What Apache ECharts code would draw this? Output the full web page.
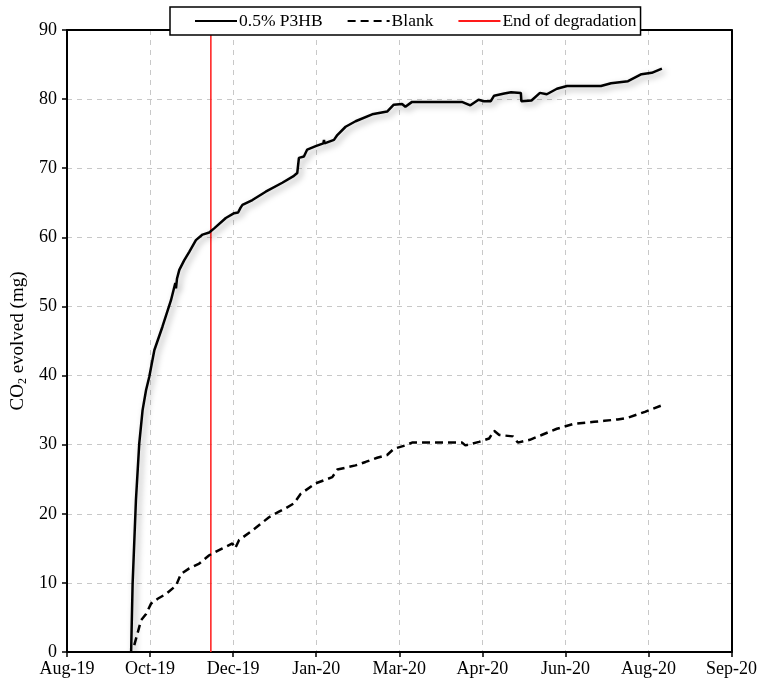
<!DOCTYPE html>
<html>
<head>
<meta charset="utf-8">
<script src="https://cdn.jsdelivr.net/npm/echarts@6/dist/echarts.min.js"></script>
<style>html,body{margin:0;padding:0;background:#fff;}#c{width:760px;height:686px;}</style>
</head>
<body>
<div id="c"></div>
<script>
// x values: days since 2019-08-24 (axis start)
const axisStartUTC = Date.UTC(2019, 7, 24);
const xTickDays = [0, 50, 100, 150, 200, 250, 300, 350, 400];

const p3hbDays = [38.6,39.5,41.5,43.5,45.5,47.6,49.5,52.6,57.5,62.6,65.2,65.6,66.2,67.6,70.6,73.6,77.6,81.6,85.6,88.6,95.6,100.6,103,104.5,105.6,111.6,119.6,129.6,136.6,138.6,139.6,142.6,144.6,149.7,154.3,154.7,155,160.7,162.7,167.7,173.7,183.7,192.7,196.7,201.7,203.7,207.7,237.7,242.8,247.7,251,255.1,257.1,263.2,267.3,273.2,273.5,279.6,284.7,288.8,294.9,301,321.4,327.5,337.7,345.8,352,358.1];
const p3hbCO2 = [0,9.9,22,30.2,35,37.9,39.8,43.7,47.1,50.9,53.4,52.6,54.0,55.3,56.7,57.9,59.6,60.4,60.7,61.3,62.8,63.5,63.6,64.3,64.7,65.4,66.6,67.9,68.9,69.3,71.5,71.7,72.7,73.2,73.6,74.1,73.6,74.1,74.8,76.0,76.8,77.8,78.2,79.2,79.3,78.9,79.6,79.6,79.1,79.9,79.7,79.7,80.5,80.8,81.0,80.9,79.7,79.8,80.9,80.7,81.5,81.9,81.9,82.3,82.6,83.6,83.8,84.4];

const blankDays = [40.5,44.6,47.6,50.6,54.6,59.6,65.6,68.6,73.6,79.6,85.6,93.6,99.6,101.2,103.6,111.6,121.6,127.6,131.6,136.6,140.7,149.7,159.7,162.7,173.7,179.7,186.7,192.7,196.7,203.7,207.7,237.7,239.8,248,254.1,257.1,260.2,268.4,271.4,278.6,285.7,294.9,305,317.3,323.4,331.5,337.7,347.9,358.1];
const blankCO2 = [1.0,4.6,5.5,7.0,7.7,8.4,9.6,11.3,12.1,12.8,14.0,15.0,15.7,15.0,16.2,17.6,19.5,20.3,20.8,21.5,22.9,24.4,25.3,26.4,27.0,27.5,28.1,28.5,29.4,29.9,30.3,30.3,29.9,30.4,30.9,32.0,31.4,31.2,30.3,30.7,31.4,32.3,33.0,33.3,33.45,33.65,33.9,34.75,35.7];

const endOfDegradationDay = 86.6;
const yRange = [0, 90];

const months = ['Jan','Feb','Mar','Apr','May','Jun','Jul','Aug','Sep','Oct','Nov','Dec'];
function dayLabel(v) {
  const d = new Date(axisStartUTC + Math.round(v) * 86400000);
  return months[d.getUTCMonth()] + '-' + String(d.getUTCFullYear() % 100).padStart(2, '0');
}
const zip = (a, b) => a.map((x, i) => [x, b[i]]);

const FONT = 'Liberation Serif';
const frameAxis = {show: true, onZero: false, lineStyle: {color: '#000', width: 2}};
const chart = echarts.init(document.getElementById('c'), null, {renderer: 'canvas'});
chart.setOption({
  animation: false,
  backgroundColor: '#fff',
  textStyle: {fontFamily: FONT, color: '#000'},
  grid: {left: 67, right: 26, top: 30, bottom: 34},
  legend: {
    left: 170, top: 7,
    backgroundColor: '#fff', borderColor: '#000', borderWidth: 1.5, borderRadius: 0,
    padding: [5, 4, 5, 24],
    itemWidth: 42, itemHeight: 4, itemGap: 24,
    itemStyle: {opacity: 0},
    textStyle: {fontFamily: FONT, fontSize: 17.5, color: '#000', padding: [0, 0, 0, -3]},
    data: ['0.5% P3HB', 'Blank', 'End of degradation']
  },
  xAxis: [{
    type: 'value', min: xTickDays[0], max: xTickDays[xTickDays.length - 1], interval: 50,
    axisLine: frameAxis,
    axisTick: {show: true, length: 5, lineStyle: {color: '#000', width: 1.5}},
    axisLabel: {formatter: dayLabel, fontFamily: FONT, fontSize: 18, color: '#000', margin: 8},
    splitLine: {show: true, lineStyle: {color: '#c8c8c8', type: [5, 5], width: 1}}
  }, {
    type: 'value', position: 'top', min: xTickDays[0], max: xTickDays[xTickDays.length - 1], interval: 50,
    axisLine: frameAxis, axisTick: {show: false}, axisLabel: {show: false}, splitLine: {show: false}
  }],
  yAxis: [{
    type: 'value', min: yRange[0], max: yRange[1], interval: 10,
    axisLine: frameAxis,
    axisTick: {show: true, length: 5, lineStyle: {color: '#000', width: 1.5}},
    axisLabel: {fontFamily: FONT, fontSize: 18, color: '#000', margin: 10},
    splitLine: {show: true, lineStyle: {color: '#c8c8c8', type: [5, 5], width: 1}},
    name: '{a|CO}{s|2}{a| evolved (mg)}',
    nameLocation: 'middle', nameGap: 38, nameRotate: 90, nameMoveOverlap: false,
    nameTextStyle: {
      rich: {
        a: {fontFamily: FONT, fontSize: 19, color: '#000'},
        s: {fontFamily: FONT, fontSize: 12, color: '#000', verticalAlign: 'bottom', padding: [9, 0, 0, 0]}
      }
    }
  }, {
    type: 'value', position: 'right', min: yRange[0], max: yRange[1], interval: 10,
    axisLine: frameAxis, axisTick: {show: false}, axisLabel: {show: false}, splitLine: {show: false}
  }],
  series: [
    {
      name: '0.5% P3HB', type: 'line', symbol: 'none', smooth: false,
      data: zip(p3hbDays, p3hbCO2),
      lineStyle: {color: '#000', width: 2.5, shadowColor: 'rgba(0,0,0,0.35)', shadowBlur: 6, shadowOffsetX: 3, shadowOffsetY: 3},
      itemStyle: {color: '#000'}, z: 5
    },
    {
      name: 'Blank', type: 'line', symbol: 'none',
      data: zip(blankDays, blankCO2),
      lineStyle: {color: '#000', width: 2.5, type: [8, 5]},
      itemStyle: {color: '#000'}, z: 4
    },
    {
      name: 'End of degradation', type: 'line', symbol: 'none',
      data: [[endOfDegradationDay, yRange[0]], [endOfDegradationDay, yRange[1]]],
      lineStyle: {color: '#ff1a1a', width: 1.5},
      itemStyle: {color: '#ff1a1a'}, z: 3
    }
  ]
});
</script>
</body>
</html>
